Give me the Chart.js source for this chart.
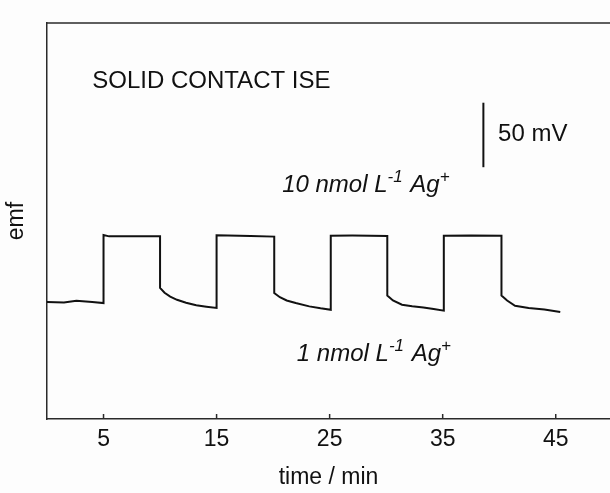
<!DOCTYPE html>
<html>
<head>
<meta charset="utf-8">
<script src="https://cdn.jsdelivr.net/npm/chart.js@4"></script>
<style>
  html, body { margin: 0; padding: 0; background: #fdfdfd; }
</style>
</head>
<body>
<canvas id="chart" width="610" height="493"></canvas>
<script>
// time axis (min) and emf trace (mV, relative to the starting baseline)
const timeMin = [0, 1.5, 2.6, 4, 5, 5, 5.5, 7.5, 10,
  10, 10.4, 10.9, 11.5, 12.3, 13.2, 14.1, 15,
  15, 16, 18, 20.1,
  20.1, 20.6, 21.2, 22, 23.2, 24.2, 25.1,
  25.1, 27, 30.1,
  30.1, 30.6, 31.4, 32.3, 33.3, 34.2, 35.1,
  35.1, 37.5, 40.2,
  40.2, 40.7, 41.4, 42.6, 44, 45.4];
const emfMv = [0.3, 0.0, 1.3, 0.3, -0.5, 52.3, 51.2, 51.3, 51.2,
  11.2, 7.5, 4.5, 2.0, -0.3, -2.2, -3.3, -4.3,
  52.0, 51.8, 51.4, 51.0,
  7.3, 4.0, 1.5, -0.5, -3.1, -4.6, -5.7,
  51.7, 51.8, 51.5,
  5.4, 1.5, -1.8, -3.0, -3.9, -5.2, -6.4,
  51.7, 51.9, 51.6,
  5.4, 1.5, -2.6, -4.3, -5.5, -7.4];

const tickLabels = [5, 15, 25, 35, 45];

// 50 mV scale bar
const scaleBarTime = [38.6, 38.6];
const scaleBarMv = [104.8, 154.8];

// text notes: [x (min), y (mV), parts]
const titleNote = [4.0, 171, [{ t: "SOLID CONTACT ISE" }]];
const barNote = [39.9, 130, [{ t: "50 mV" }]];
const highNote = [20.8, 91, [{ t: "10 nmol L" }, { t: "-1", sup: true }, { t: " Ag" }, { t: "+", sup: true }]];
const lowNote = [22.1, -40.5, [{ t: "1 nmol L" }, { t: "-1", sup: true }, { t: " Ag" }, { t: "+", sup: true }]];

const FONT = "'Liberation Sans', Arial, sans-serif";
const INK = "#111";

const toPoints = (xs, ys) => xs.map((x, i) => ({ x: x, y: ys[i] }));

const framePlugin = {
  id: "frame",
  afterDraw(chart) {
    const ctx = chart.ctx;
    const area = chart.chartArea;
    const xs = chart.scales.x;
    ctx.save();
    ctx.strokeStyle = "#2a2a2a";
    ctx.lineWidth = 1.5;
    // top border
    ctx.beginPath();
    ctx.moveTo(area.left, area.top);
    ctx.lineTo(area.right, area.top);
    ctx.stroke();
    // inward tick marks
    tickLabels.forEach(v => {
      const px = xs.getPixelForValue(v);
      ctx.beginPath();
      ctx.moveTo(px, area.bottom);
      ctx.lineTo(px, area.bottom - 5);
      ctx.stroke();
    });
    ctx.restore();
  }
};

const notesPlugin = {
  id: "notes",
  afterDraw(chart) {
    const ctx = chart.ctx;
    const xs = chart.scales.x, ys = chart.scales.y;
    const draw = (note, italic) => {
      let px = xs.getPixelForValue(note[0]);
      const py = ys.getPixelForValue(note[1]);
      ctx.save();
      ctx.fillStyle = INK;
      ctx.textBaseline = "middle";
      ctx.textAlign = "left";
      note[2].forEach(p => {
        const size = p.sup ? 17 : 24;
        ctx.font = (italic ? "italic " : "") + size + "px " + FONT;
        ctx.fillText(p.t, px, p.sup ? py - 8 : py);
        px += ctx.measureText(p.t).width + (p.sup ? 1 : 0);
      });
      ctx.restore();
    };
    draw(titleNote, false);
    draw(barNote, false);
    draw(highNote, true);
    draw(lowNote, true);
  }
};

new Chart(document.getElementById("chart"), {
  type: "scatter",
  data: {
    datasets: [
      {
        data: toPoints(timeMin, emfMv),
        showLine: true,
        borderColor: INK,
        borderWidth: 2,
        pointRadius: 0,
        tension: 0
      },
      {
        data: toPoints(scaleBarTime, scaleBarMv),
        showLine: true,
        borderColor: INK,
        borderWidth: 2,
        pointRadius: 0
      }
    ]
  },
  options: {
    responsive: false,
    animation: false,
    layout: { padding: { top: 23, right: 0, left: 0, bottom: 0 } },
    plugins: { legend: { display: false }, tooltip: { enabled: false } },
    scales: {
      x: {
        type: "linear",
        min: 0,
        max: 49.8,
        grid: { display: false, drawTicks: false },
        border: { display: true, color: "#2a2a2a", width: 1.5 },
        afterBuildTicks: s => { s.ticks = tickLabels.map(v => ({ value: v })); },
        afterFit: s => { s.height = 74; },
        ticks: { color: INK, font: { family: FONT, size: 23 }, padding: 7, maxRotation: 0 },
        title: { display: true, text: "time / min", color: INK, font: { family: FONT, size: 23 }, padding: { top: 0, bottom: 2 } }
      },
      y: {
        min: -90.4,
        max: 216.6,
        grid: { display: false, drawTicks: false },
        border: { display: true, color: "#2a2a2a", width: 1.5 },
        ticks: { display: false },
        afterFit: s => { s.width = 47; },
        title: { display: true, text: "emf", color: INK, font: { family: FONT, size: 23 }, padding: { top: 3, bottom: 0 } }
      }
    }
  },
  plugins: [framePlugin, notesPlugin]
});
</script>
</body>
</html>
